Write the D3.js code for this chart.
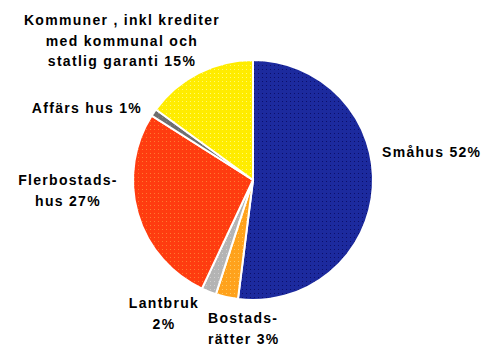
<!DOCTYPE html>
<html>
<head>
<meta charset="utf-8">
<script src="https://cdn.jsdelivr.net/npm/d3@7"></script>
<style>
  html, body { margin: 0; padding: 0; background: #fff; }
  svg { display: block; }
  text { font-family: "Liberation Sans", Arial, sans-serif; font-weight: bold; fill: #000; }
</style>
</head>
<body>
<svg id="chart" width="497" height="345"></svg>
<script>
// Lending by borrower category, share of total (%)
const categories = ["Småhus", "Bostadsrätter", "Lantbruk", "Flerbostadshus", "Affärshus", "Kommuner"];
const shares = [52, 3, 2, 27, 1, 15];
const colors = ["#1c2a9e", "#ffa21c", "#b4b4b4", "#ff3c10", "#6e6e6e", "#ffec00"];
const dotColors = ["#0c0f6a", "#ffc860", "#d0d0d0", "#ff7a30", "#8a8a8a", "#fffb70"];

// Label lines per slice (hyphenated as in print)
const labelLines = [
  ["Småhus 52%"],
  ["Bostads-", "rätter 3%"],
  ["Lantbruk", "2%"],
  ["Flerbostads-", "hus 27%"],
  ["Affärs hus 1%"],
  ["Kommuner , inkl krediter", "med kommunal och", "statlig garanti 15%"]
];
const labelPos = [
  { x: 382, y: 157, anchor: "start" },
  { x: 208, y: 323, anchor: "start" },
  { x: 164, y: 308, anchor: "middle" },
  { x: 68, y: 185, anchor: "middle" },
  { x: 87, y: 113, anchor: "middle" },
  { x: 122, y: 25, anchor: "middle" }
];

const svg = d3.select("#chart");
const cx = 253, cy = 180, r = 120;

// Dithered fill patterns
const defs = svg.append("defs");
shares.forEach((_, i) => {
  const p = defs.append("pattern")
    .attr("id", "pat" + i)
    .attr("patternUnits", "userSpaceOnUse")
    .attr("width", 4).attr("height", 4);
  p.append("rect").attr("width", 4).attr("height", 4).attr("fill", colors[i]);
  p.append("rect").attr("x", 1).attr("y", 1).attr("width", 1).attr("height", 1).attr("fill", dotColors[i]);
});

const pie = d3.pie().sort(null).value(d => d)(shares);
const arc = d3.arc().innerRadius(0).outerRadius(r);

svg.append("g")
  .attr("transform", `translate(${cx},${cy})`)
  .selectAll("path")
  .data(pie)
  .join("path")
  .attr("d", arc)
  .attr("fill", (d, i) => `url(#pat${i})`)
  .attr("stroke", "#fff")
  .attr("stroke-width", 2)
  .attr("stroke-linejoin", "round");

// Labels
const lg = svg.append("g");
labelLines.forEach((lines, i) => {
  const t = lg.append("text")
    .attr("x", labelPos[i].x)
    .attr("y", labelPos[i].y)
    .attr("text-anchor", labelPos[i].anchor)
    .style("font-size", "14px")
    .style("letter-spacing", "1.3px");
  lines.forEach((ln, j) => {
    t.append("tspan")
      .attr("x", labelPos[i].x)
      .attr("dy", j === 0 ? 0 : 20.5)
      .text(ln);
  });
});
</script>
</body>
</html>
